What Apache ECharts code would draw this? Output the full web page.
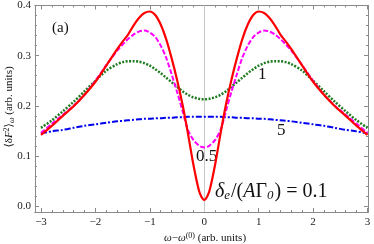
<!DOCTYPE html>
<html><head><meta charset="utf-8">
<script src="https://cdn.jsdelivr.net/npm/echarts@6/dist/echarts.min.js"></script>
<style>html,body{margin:0;padding:0;background:#fff}#c{width:374px;height:244px}</style>
</head><body><div id="c"></div>
<script>
const xs = [-3.0,-2.8,-2.6,-2.4,-2.2,-2.0,-1.8,-1.6,-1.5,-1.4,-1.3,-1.2,-1.1,-1.0,-0.9,-0.8,-0.7,-0.6,-0.5,-0.4,-0.3,-0.2,-0.1,-0.05,
  0.0,0.05,0.1,0.2,0.3,0.4,0.5,0.6,0.7,0.8,0.9,1.0,1.1,1.2,1.3,1.4,1.5,1.6,1.8,2.0,2.2,2.4,2.6,2.8,3.0];
const red = [0.142,0.160,0.180,0.199,0.222,0.248,0.280,0.313,0.328,0.342,0.360,0.375,0.385,0.388,0.381,0.362,0.333,0.295,0.252,0.203,0.145,0.083,0.032,0.018,
  0.012,0.018,0.032,0.083,0.145,0.203,0.252,0.295,0.333,0.362,0.381,0.388,0.385,0.375,0.360,0.342,0.328,0.313,0.280,0.248,0.222,0.199,0.180,0.160,0.142];
const magenta = [0.146,0.164,0.182,0.200,0.222,0.250,0.281,0.310,0.322,0.333,0.342,0.348,0.350,0.346,0.337,0.320,0.296,0.263,0.228,0.190,0.152,0.132,0.121,0.118,
  0.117,0.118,0.121,0.132,0.152,0.190,0.228,0.263,0.296,0.320,0.337,0.346,0.350,0.348,0.342,0.333,0.322,0.310,0.281,0.250,0.222,0.200,0.182,0.164,0.146];
const green = [0.156,0.171,0.189,0.208,0.229,0.250,0.270,0.283,0.287,0.289,0.289,0.288,0.285,0.280,0.273,0.265,0.256,0.247,0.238,0.229,0.222,0.217,0.214,0.213,
  0.213,0.213,0.214,0.217,0.222,0.229,0.238,0.247,0.256,0.265,0.273,0.280,0.285,0.288,0.289,0.289,0.287,0.283,0.270,0.250,0.229,0.208,0.189,0.171,0.156];
const blue = [0.145,0.149,0.152,0.156,0.160,0.163,0.166,0.169,0.170,0.171,0.172,0.173,0.174,0.174,0.175,0.175,0.176,0.176,0.177,0.177,0.178,0.178,0.178,0.178,
  0.178,0.178,0.178,0.178,0.178,0.177,0.177,0.176,0.176,0.175,0.175,0.174,0.174,0.173,0.172,0.171,0.170,0.169,0.166,0.163,0.160,0.156,0.152,0.149,0.145];
const xTicks = [-3,-2,-1,0,1,2,3];
const xTickLabels = ['\u22123','\u22122','\u22121','0','1','2','3'];
const yTicks = [0.0,0.1,0.2,0.3,0.4];
const yTickLabels = ['0.0','0.1','0.2','0.3','0.4'];

const XMIN=-3.11, XMAX=3.009, YMIN=-0.0118, YMAX=0.4;
const xMinor=[], yMinor=[];
for (let k=-15;k<=15;k++){ if(k%5!==0) xMinor.push(k/5); }
for (let k=0;k<=20;k++){ if(k%5!==0) yMinor.push(k/50); }
const SERIF="'Liberation Serif','DejaVu Serif',serif";
const frame={lineStyle:{color:'#8a8a8a',width:1}};
function xa(pos, vals, len, labels){
  return {type:'value',position:pos,min:XMIN,max:XMAX,
    axisLine:{show:true,onZero:false,...frame},
    axisTick:{show:true,inside:true,length:len,customValues:vals,lineStyle:{color:'#8a8a8a'}},
    axisLabel:labels?{show:true,customValues:xTicks,margin:5,fontFamily:SERIF,fontSize:11,color:'#222',
      formatter:v=>xTickLabels[xTicks.indexOf(Math.round(v))]}:{show:false},
    splitLine:{show:false}};
}
function ya(pos, vals, len, labels){
  return {type:'value',position:pos,min:YMIN,max:YMAX,
    axisLine:{show:true,onZero:false,...frame},
    axisTick:{show:true,inside:true,length:len,customValues:vals,lineStyle:{color:'#8a8a8a'}},
    axisLabel:labels?{show:true,customValues:yTicks,margin:4,fontFamily:SERIF,fontSize:11,color:'#222',
      formatter:v=>yTickLabels[yTicks.indexOf(Math.round(v*10)/10)]}:{show:false},
    splitLine:{show:false}};
}
function pts(ys){ return xs.map((x,i)=>[x,ys[i]]); }
const chart=echarts.init(document.getElementById('c'),null,{renderer:'canvas'});
chart.setOption({
  animation:false,
  grid:{left:35,right:6,top:3,bottom:32,containLabel:false},
  xAxis:[xa('bottom',xTicks,4,true),xa('bottom',xMinor,2,false),xa('top',xTicks,4,false),xa('top',xMinor,2,false)],
  yAxis:[ya('left',yTicks,4,true),ya('left',yMinor,2,false),ya('right',yTicks,4,false),ya('right',yMinor,2,false)],
  series:[
    {type:'line',data:pts(blue),smooth:0.3,showSymbol:false,lineStyle:{color:'#0000ee',width:2,type:[6,2,2,2]},z:2,
     markLine:{silent:true,symbol:'none',label:{show:false},lineStyle:{color:'#c8c8c8',width:1,type:'solid'},data:[{xAxis:0}],z:1}},
    {type:'line',data:pts(green),smooth:0.3,showSymbol:false,lineStyle:{color:'#1e7a1e',width:2.5,type:[2,1.5]},z:3},
    {type:'line',data:pts(magenta),smooth:0.3,showSymbol:false,lineStyle:{color:'#ff00ff',width:2,type:[5,2]},z:4},
    {type:'line',data:pts(red),smooth:0.3,showSymbol:false,lineStyle:{color:'#ff0000',width:2.2},z:5}
  ],
  graphic:[
    {type:'text',left:52,top:21,style:{text:'(a)',font:'15px '+SERIF,fill:'#111'}},
    {type:'text',left:258,top:66,style:{text:'1',font:'17px '+SERIF,fill:'#111'}},
    {type:'text',left:277,top:122,style:{text:'5',font:'17px '+SERIF,fill:'#111'}},
    {type:'text',left:196,top:148,style:{text:'0.5',font:'17px '+SERIF,fill:'#111'}},
    {type:'text',left:215,top:182,style:{
      text:'{i|\u03b4}{s|e}{n|/(}{i|A}{n|\u0393}{s|0}{n|) = 0.1}',
      rich:{i:{fontFamily:SERIF,fontSize:20,fontStyle:'italic',fill:'#111'},
            n:{fontFamily:SERIF,fontSize:20,fill:'#111'},
            s:{fontFamily:SERIF,fontSize:13,fontStyle:'italic',fill:'#111',padding:[8,1,0,0]}}}},
    {type:'text',x:9,y:107,rotation:Math.PI/2,style:{
      text:'{n|\u27e8\u03b4}{i|F}{sp|2}{n|\u27e9}{s|\u03c9}{n| (arb. units)}',align:'center',verticalAlign:'middle',
      rich:{n:{fontFamily:SERIF,fontSize:11,fill:'#111'},i:{fontFamily:SERIF,fontSize:11,fontStyle:'italic',fill:'#111'},
            sp:{fontFamily:SERIF,fontSize:8,fill:'#111',padding:[0,0,5,0]},
            s:{fontFamily:SERIF,fontSize:8,fontStyle:'italic',fill:'#111',padding:[5,0,0,0]}}}},
    {type:'text',x:205,y:238,style:{
      text:'{i|\u03c9}{n|\u2212}{i|\u03c9}{sp|(0)}{n| (arb. units)}',align:'center',verticalAlign:'middle',
      rich:{n:{fontFamily:SERIF,fontSize:11,fill:'#111'},i:{fontFamily:SERIF,fontSize:11,fontStyle:'italic',fill:'#111'},
            sp:{fontFamily:SERIF,fontSize:8,fill:'#111',padding:[0,0,5,0]}}}}
  ]
});
</script></body></html>
